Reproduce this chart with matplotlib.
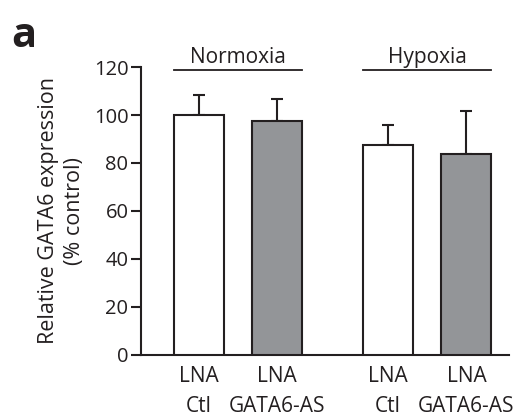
import matplotlib
matplotlib.use("Agg")
import matplotlib.pyplot as plt
import numpy as np

plt.rcParams['font.family'] = ['Open Sans', 'DejaVu Sans']

categories = ["LNA\nCtl", "LNA\nGATA6-AS", "LNA\nCtl", "LNA\nGATA6-AS"]
values = [100.0, 97.6, 87.6, 83.8]
errors = [8.3, 9.2, 8.2, 18.0]
groups = ["Normoxia", "Hypoxia"]
yticks = [0, 20, 40, 60, 80, 100, 120]

x = np.array([0, 1, 2.406, 3.405])
colors = ["white", "#939598", "white", "#939598"]
edge = "#231f20"
width = 0.636

fig = plt.figure(figsize=(5.18, 4.19), dpi=100)
ax = fig.add_axes([0.272, 0.153, 0.711, 0.687])

ax.bar(x, values, width=width, color=colors, edgecolor=edge, linewidth=1.5, zorder=3)
ax.errorbar(x, values, yerr=[np.zeros(len(errors)), errors], fmt='none',
            ecolor=edge, elinewidth=1.5, capsize=4, capthick=1.5, zorder=2)

ax.set_xlim(-0.734, 3.948)
ax.set_ylim(0, 120)
ax.set_yticks(yticks)
ax.set_yticklabels([str(t) for t in yticks], fontsize=14.5, color="#231f20")
ax.set_xticks(x)
ax.set_xticklabels(categories, fontsize=15, color="#231f20", linespacing=1.55)
ax.tick_params(axis='x', length=0, pad=8)
ax.tick_params(axis='y', length=7, width=1.5, color=edge, pad=2)
for s in ['top', 'right']:
    ax.spines[s].set_visible(False)
for s in ['left', 'bottom']:
    ax.spines[s].set_linewidth(1.5)
    ax.spines[s].set_color(edge)

ax.set_ylabel("Relative GATA6 expression\n(% control)", fontsize=15.5, color="#231f20",
              labelpad=6, linespacing=1.35)

# group labels with lines
for gi, g in enumerate(groups):
    xl = x[2 * gi] - width / 2
    xr = x[2 * gi + 1] + width / 2
    ax.plot([xl, xr], [118.7, 118.7], color=edge, lw=1.3, clip_on=False)
    ax.text((xl + xr) / 2, 119.6, g, ha='center', va='bottom', fontsize=15, color="#231f20")

fig.text(0.022, 0.962, "a", fontsize=30, fontweight='bold', ha='left', va='top', color="#231f20")

fig.savefig("out.png", dpi=100)
